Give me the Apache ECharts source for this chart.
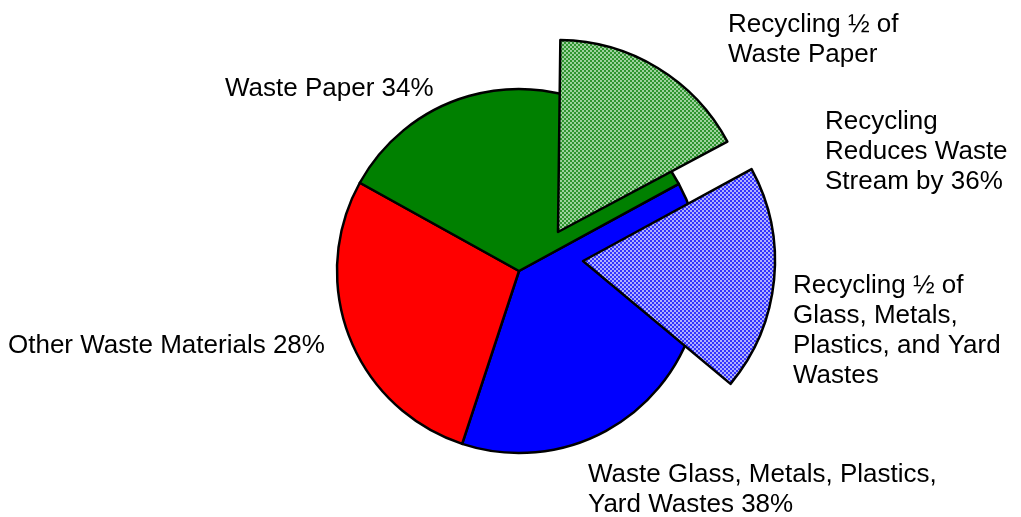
<!DOCTYPE html>
<html>
<head>
<meta charset="utf-8">
<script src="https://cdn.jsdelivr.net/npm/echarts@6/dist/echarts.min.js"></script>
<style>
html,body{margin:0;padding:0;background:#fff;}
#chart{width:1021px;height:517px;}
</style>
</head>
<body>
<div id="chart"></div>
<script>
// ---- data ----
const wasteCategories = ['Waste Glass, Metals, Plastics,\nYard Wastes 38%', 'Other Waste Materials 28%', 'Waste Paper 34%'];
const wasteShares = [38, 28, 34];
const recycledPaperShare = [17];
const recycledGlassShare = [19];
const recycleLabels = ['Recycling ½ of\nWaste Paper', 'Recycling ½ of\nGlass, Metals,\nPlastics, and Yard\nWastes'];
const summaryLabel = 'Recycling\nReduces Waste\nStream by 36%';

function checker(c1, c2) {
  const cv = document.createElement('canvas');
  cv.width = 4; cv.height = 4;
  const ctx = cv.getContext('2d');
  ctx.fillStyle = c1; ctx.fillRect(0, 0, 4, 4);
  ctx.fillStyle = c2;
  ctx.fillRect(0, 0, 2, 2); ctx.fillRect(2, 2, 2, 2);
  return { image: cv, repeat: 'repeat' };
}
const greenPattern = checker('#2f952f', '#9ed29e');
const bluePattern = checker('#3434ff', '#b0b0ff');

const baseColors = ['#0000ff', '#ff0000', '#008000'];
const border = { borderColor: '#000', borderWidth: 2.5 };
const FONT = 'Liberation Sans, Arial, sans-serif';

const chart = echarts.init(document.getElementById('chart'), null, { renderer: 'canvas' });

function filler(total, shown) {
  return { value: total - shown, itemStyle: { color: 'rgba(0,0,0,0)', borderWidth: 0 } };
}

const option = {
  animation: false,
  backgroundColor: '#fff',
  series: [
    {
      type: 'pie',
      center: [519, 271],
      radius: 182,
      startAngle: 28.6,
      clockwise: true,
      silent: true,
      label: { show: false },
      labelLine: { show: false },
      emphasis: { disabled: true },
      data: wasteCategories.map((n, i) => ({
        name: n, value: wasteShares[i],
        itemStyle: Object.assign({ color: baseColors[i] }, border)
      }))
    },
    {
      type: 'pie',
      center: [558, 232],
      radius: 192,
      startAngle: 89.3,
      clockwise: true,
      silent: true,
      z: 3,
      label: { show: false },
      labelLine: { show: false },
      emphasis: { disabled: true },
      data: [
        { name: recycleLabels[0], value: recycledPaperShare[0], itemStyle: Object.assign({ color: greenPattern }, border) },
        filler(100, recycledPaperShare[0])
      ]
    },
    {
      type: 'pie',
      center: [583, 261],
      radius: 192,
      startAngle: 28.6,
      clockwise: true,
      silent: true,
      z: 3,
      label: { show: false },
      labelLine: { show: false },
      emphasis: { disabled: true },
      data: [
        { name: recycleLabels[1], value: recycledGlassShare[0], itemStyle: Object.assign({ color: bluePattern }, border) },
        filler(100, recycledGlassShare[0])
      ]
    }
  ],
  graphic: [
    { type: 'text', left: 225, top: 74, style: { text: wasteCategories[2], font: '26px ' + FONT, fill: '#000', lineHeight: 30 } },
    { type: 'text', left: 8, top: 331, style: { text: wasteCategories[1], font: '26px ' + FONT, fill: '#000', lineHeight: 30 } },
    { type: 'text', left: 588, top: 460, style: { text: wasteCategories[0], font: '26px ' + FONT, fill: '#000', lineHeight: 30 } },
    { type: 'text', left: 728, top: 10, style: { text: recycleLabels[0], font: '26px ' + FONT, fill: '#000', lineHeight: 30 } },
    { type: 'text', left: 825, top: 107, style: { text: summaryLabel, font: '26px ' + FONT, fill: '#000', lineHeight: 30 } },
    { type: 'text', left: 793, top: 271, style: { text: recycleLabels[1], font: '26px ' + FONT, fill: '#000', lineHeight: 30 } }
  ]
};
chart.setOption(option);
</script>
</body>
</html>
